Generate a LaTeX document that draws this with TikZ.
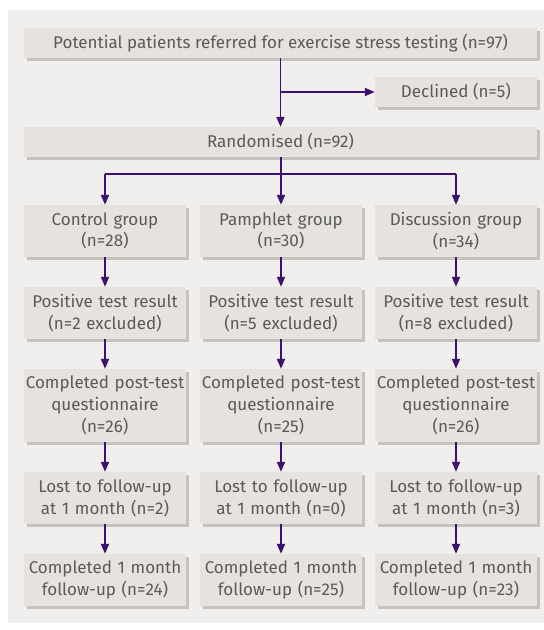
\documentclass[tikz,border=0pt]{standalone}
\usepackage{fontspec}
\setmainfont{Fira Sans}
\usetikzlibrary{arrows.meta,shadows}
\definecolor{bgc}{HTML}{F1EFEE}
\definecolor{boxc}{HTML}{E6E2DF}
\definecolor{shc}{HTML}{C8C2BF}
\definecolor{txtc}{HTML}{5A5A5A}
\definecolor{arrc}{HTML}{3D0F6E}
\tikzset{
  fbox/.style={fill=boxc, draw=none, inner sep=0pt, align=center, text=txtc,
    font=\fontsize{17pt}{21.7pt}\selectfont,
    general shadow={shadow xshift=3pt, shadow yshift=-3pt, fill=shc, opacity=1}},
  colbox/.style={fbox, minimum width=162pt, text width=160pt},
  conn/.style={draw=arrc, line width=1.8pt, -{Triangle[length=10pt,width=8pt]}},
  line/.style={draw=arrc, line width=1.8pt}
}
\begin{document}
\begin{tikzpicture}[x=1pt,y=-1pt]
\useasboundingbox (0,0) rectangle (544,630);
\fill[bgc] (8,10) rectangle (544,623);
\node[fbox, minimum width=513pt, minimum height=30pt] (top) at (280.5,43) {Potential patients referred for exercise stress testing (n=97)};
\node[fbox, minimum width=162pt, minimum height=30pt] (dec) at (456,92) {Declined (n=5)};
\node[fbox, minimum width=513pt, minimum height=30pt] (rand) at (280.5,142) {Randomised (n=92)};
% columns
\node[colbox, minimum height=52pt] (g1) at (105,231) {Control group\\(n=28)};
\node[colbox, minimum height=52pt] (g2) at (281,231) {Pamphlet group\\(n=30)};
\node[colbox, minimum height=52pt] (g3) at (456,231) {Discussion group\\(n=34)};
\node[colbox, minimum height=52pt] (p1) at (105,313) {Positive test result\\(n=2 excluded)};
\node[colbox, minimum height=52pt] (p2) at (281,313) {Positive test result\\(n=5 excluded)};
\node[colbox, minimum height=52pt] (p3) at (456,313) {Positive test result\\(n=8 excluded)};
\node[colbox, minimum height=73pt] (q1) at (105,405.5) {Completed post-test\\questionnaire\\(n=26)};
\node[colbox, minimum height=73pt] (q2) at (281,405.5) {Completed post-test\\questionnaire\\(n=25)};
\node[colbox, minimum height=73pt] (q3) at (456,405.5) {Completed post-test\\questionnaire\\(n=26)};
\node[colbox, minimum height=52pt] (l1) at (105,498) {Lost to follow-up\\at 1 month (n=2)};
\node[colbox, minimum height=52pt] (l2) at (281,498) {Lost to follow-up\\at 1 month (n=0)};
\node[colbox, minimum height=52pt] (l3) at (456,498) {Lost to follow-up\\at 1 month (n=3)};
\node[colbox, minimum height=52pt] (c1) at (105,580) {Completed 1 month\\follow-up (n=24)};
\node[colbox, minimum height=52pt] (c2) at (281,580) {Completed 1 month\\follow-up (n=25)};
\node[colbox, minimum height=52pt] (c3) at (456,580) {Completed 1 month\\follow-up (n=23)};
% top connectors
\coordinate (bj) at (280.5,92);
\draw[conn] (top.south) -- (rand.north);
\draw[conn] (bj) -- (dec.west);
% split
\coordinate (sp) at (281,174);
\coordinate (sl) at (105,174);
\coordinate (sr) at (456,174);
\draw[line] (rand.south -| sp) -- (sp);
\draw[line] (sl) -- (sr);
\draw[conn] (sl) -- (g1.north);
\draw[conn] (sp) -- (g2.north);
\draw[conn] (sr) -- (g3.north);
\foreach \c in {1,2,3}{
  \draw[conn] (g\c.south) -- (p\c.north);
  \draw[conn] (p\c.south) -- (q\c.north);
  \draw[conn] (q\c.south) -- (l\c.north);
  \draw[conn] (l\c.south) -- (c\c.north);
}
\end{tikzpicture}
\end{document}
